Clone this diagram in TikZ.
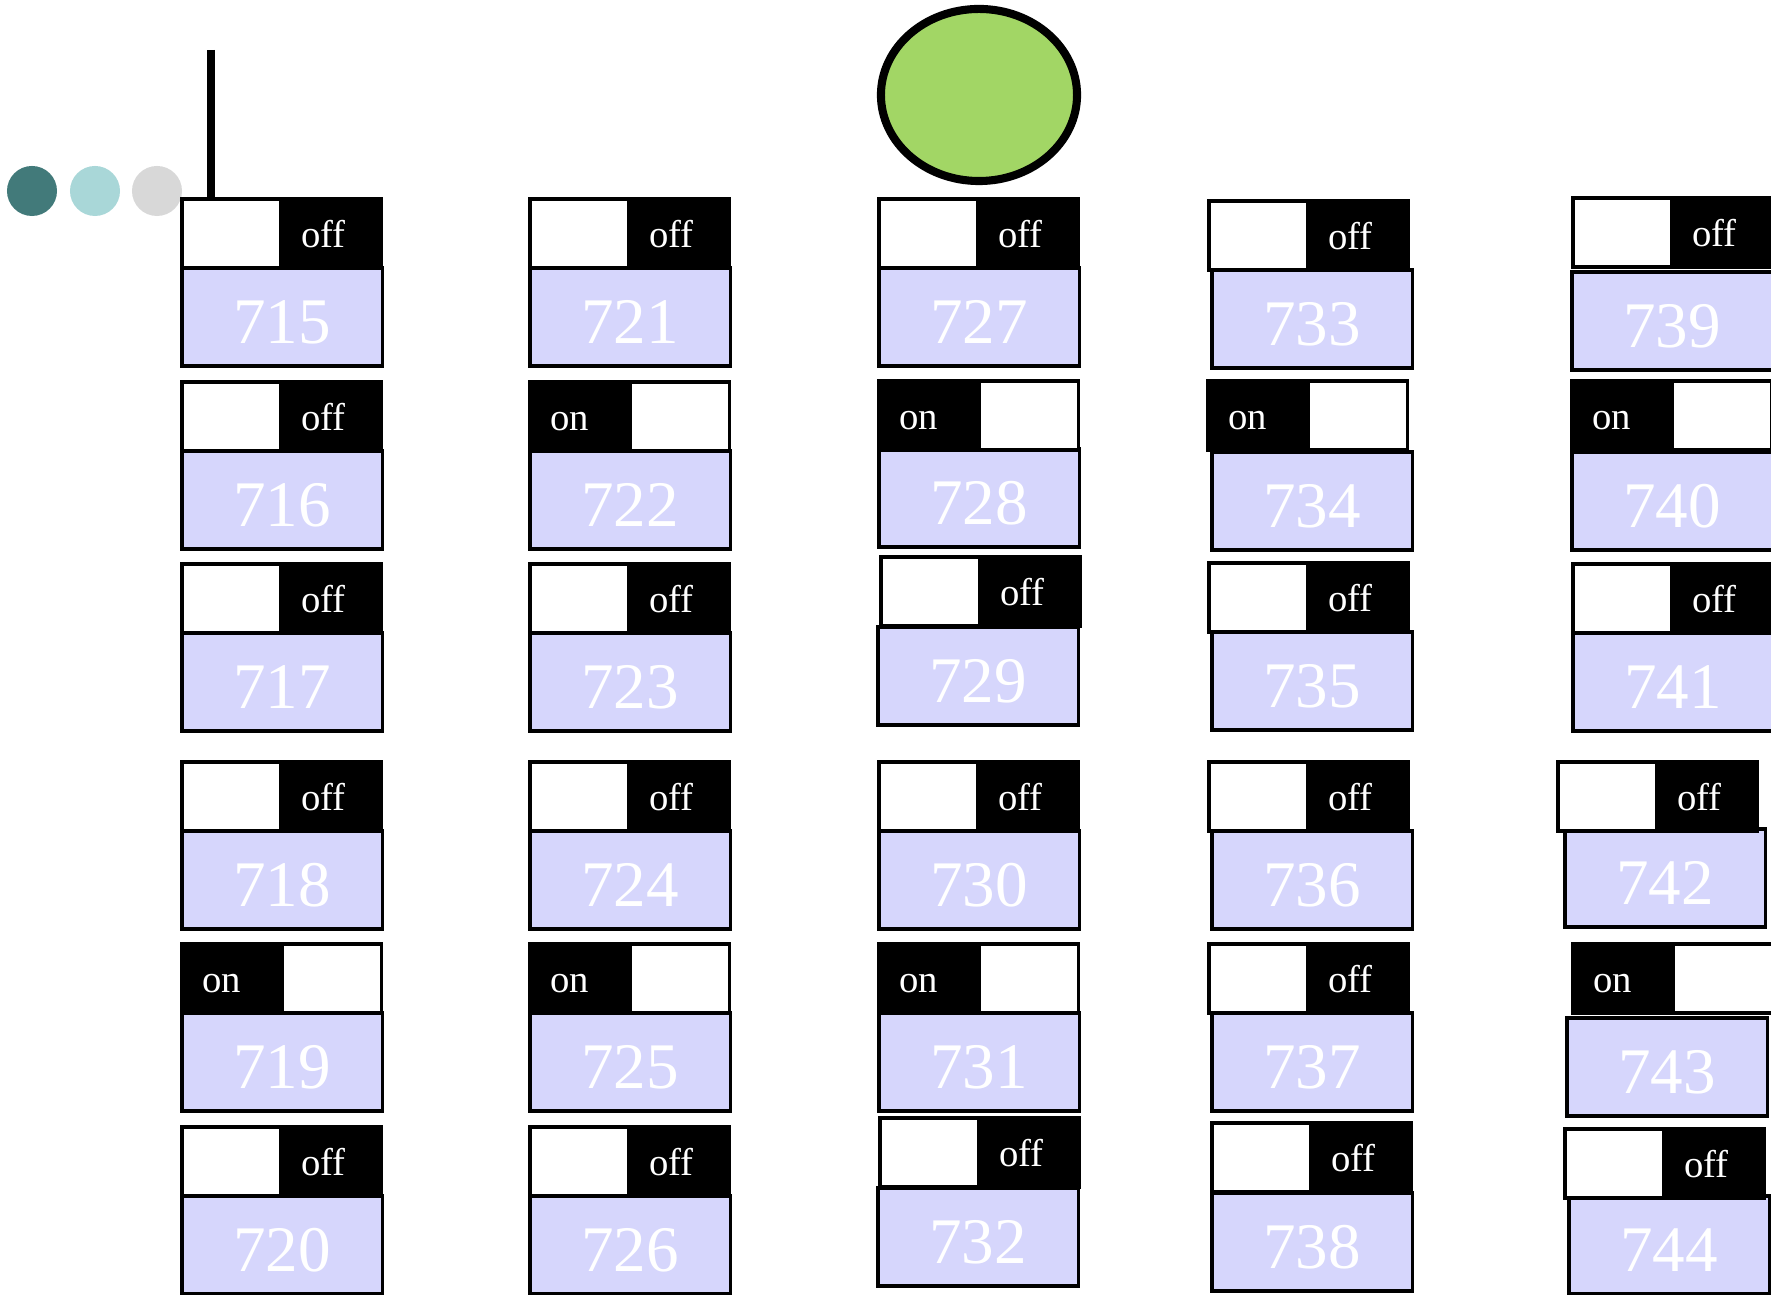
\documentclass[tikz,border=0pt]{standalone}
\usepackage{fontspec}
\setmainfont{Liberation Serif}
\usetikzlibrary{positioning}
\definecolor{boxfill}{HTML}{D6D6FC}
\definecolor{lampgreen}{HTML}{A2D665}
\definecolor{dotdark}{HTML}{427A7A}
\definecolor{dotlight}{HTML}{A9D7D8}
\definecolor{dotgrey}{HTML}{D8D8D8}

% one relay: number, switch corner (x,y), number box corner (x,y)
\newcommand{\offrelay}[5]{%
  \node[numbox] (n#1) at (#4,#5) {#1};
  \node[knob] (k#1) at (#2,#3) {};
  \node[lever, right=0pt of k#1] (l#1) {off};
}
\newcommand{\onrelay}[5]{%
  \node[numbox] (n#1) at (#4,#5) {#1};
  \node[lever] (l#1) at (#2,#3) {on};
  \node[knob, right=0pt of l#1] (k#1) {};
}

\begin{document}
\begin{tikzpicture}[x=0.01cm, y=-0.01cm,
    numbox/.style={draw, fill=boxfill, line width=0.9pt, minimum width=2cm,
      minimum height=0.98cm, inner sep=0pt, outer sep=0pt, anchor=north west,
      text height=0.52cm, text depth=0cm,
      text=white, font=\fontsize{18.5}{18.5}\selectfont},
    knob/.style={draw, fill=white, line width=0.9pt, minimum width=0.99cm,
      minimum height=0.69cm, inner sep=0pt, outer sep=0pt, anchor=north west},
    lever/.style={draw, fill=black, line width=0.9pt, text=white,
      minimum height=0.69cm, inner xsep=0.2cm, inner ysep=0pt, outer sep=0pt,
      text width=0.6cm, text height=0.27cm, text depth=0cm, align=left,
      anchor=north west, font=\fontsize{11}{11}\selectfont}
]
  \useasboundingbox (0,0) rectangle (1771,1295);

  % three dots and the mast
  \fill[dotdark] (32,191) circle (0.25cm);
  \fill[dotlight] (95,191) circle (0.25cm);
  \fill[dotgrey] (157,191) circle (0.25cm);

  % green lamp
  \draw[line width=2.3pt, fill=lampgreen] (979,95) ellipse (0.98cm and 0.86cm);

  % first column
  \offrelay{715}{182}{199}{182}{268}
  \offrelay{716}{182}{382}{182}{451}
  \offrelay{717}{182}{564}{182}{633}
  \offrelay{718}{182}{762}{182}{831}
  \onrelay{719}{182}{944}{182}{1013}
  \offrelay{720}{182}{1127}{182}{1196}

  % second column
  \offrelay{721}{530}{199}{530}{268}
  \onrelay{722}{530}{382}{530}{451}
  \offrelay{723}{530}{564}{530}{633}
  \offrelay{724}{530}{762}{530}{831}
  \onrelay{725}{530}{944}{530}{1013}
  \offrelay{726}{530}{1127}{530}{1196}

  % third column
  \offrelay{727}{879}{199}{879}{268}
  \onrelay{728}{879}{381}{879}{449}
  \offrelay{729}{881}{557}{878}{627}
  \offrelay{730}{879}{762}{879}{831}
  \onrelay{731}{879}{944}{879}{1013}
  \offrelay{732}{880}{1118}{878}{1188}

  % fourth column
  \offrelay{733}{1209}{201}{1212}{270}
  \onrelay{734}{1208}{381}{1212}{452}
  \offrelay{735}{1209}{563}{1212}{632}
  \offrelay{736}{1209}{762}{1212}{831}
  \offrelay{737}{1209}{944}{1212}{1013}
  \offrelay{738}{1212}{1123}{1212}{1193}

  % fifth column
  \offrelay{739}{1573}{198}{1572}{272}
  \onrelay{740}{1572}{381}{1572}{452}
  \offrelay{741}{1573}{564}{1573}{633}
  \offrelay{742}{1558}{762}{1565}{829}
  \onrelay{743}{1573}{944}{1567}{1018}
  \offrelay{744}{1565}{1129}{1569}{1196}

  % mast on the first switch
  \coordinate (mast) at (211,50);
  \draw[line width=2.3pt] (mast) -- (mast |- k715.north);
\end{tikzpicture}
\end{document}
